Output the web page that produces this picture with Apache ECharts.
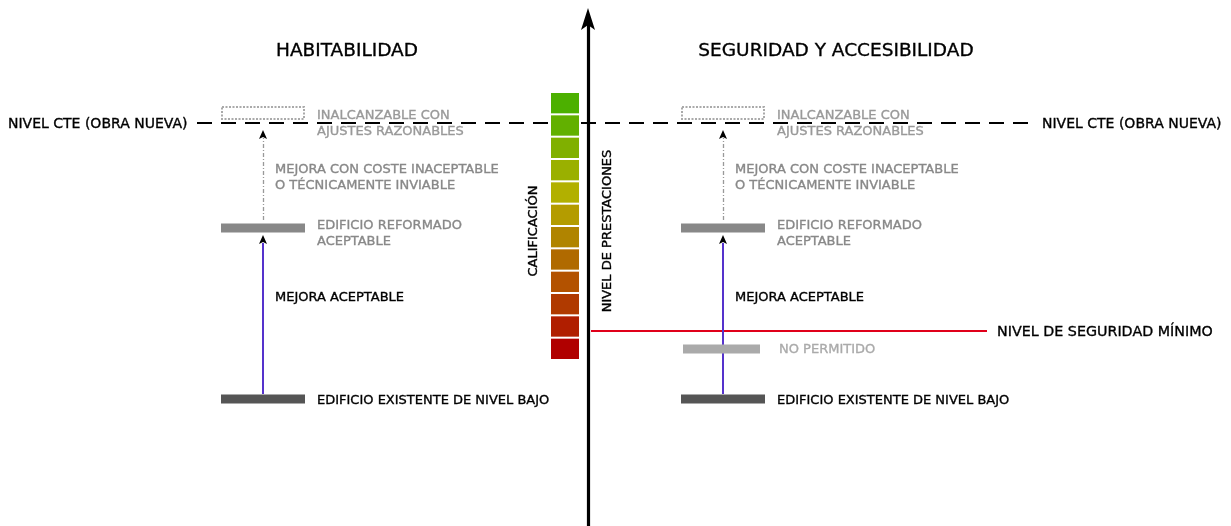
<!DOCTYPE html>
<html><head><meta charset="utf-8">
<script src="https://cdn.jsdelivr.net/npm/echarts@6/dist/echarts.min.js"></script>
<style>html,body{margin:0;padding:0;background:#fff}#c{width:1231px;height:526px}</style>
</head><body><div id="c"></div>
<script>
// ---- data (diagram space: x horizontal, y = vertical position, top = 0) ----
const W = 1231, H = 526;
const axisX = 588;                       // central "nivel de prestaciones" axis
const levelCTE = 123;                    // NIVEL CTE (OBRA NUEVA)
const levelUnreachable = 113;            // inalcanzable con ajustes razonables
const levelReformed = 228;               // edificio reformado aceptable
const levelMinSafety = 331;              // nivel de seguridad mínimo
const levelNotAllowed = 349;             // no permitido
const levelExisting = 399;               // edificio existente de nivel bajo
const panelNames = ['HABITABILIDAD', 'SEGURIDAD Y ACCESIBILIDAD'];
const panelBarLeft = [221, 681];
const panelTitleX = [347, 836];
const scaleColors = ['#4cb000','#62b000','#80b000','#9ab000','#b2b000','#b49c00',
                     '#b08400','#b06a00','#b35200','#b03a00','#b01e00','#b00000'];
const scaleTop = 92, scaleBottom = 360, scaleLeft = 551, scaleRight = 579;

const texts = [
  // [text, x, y, color, size, align, rotation]
  ['NIVEL CTE (OBRA NUEVA)', 8, levelCTE + 1, '#000', 14, 'left', 0],
  ['NIVEL CTE (OBRA NUEVA)', 1042, levelCTE + 1, '#000', 14, 'left', 0],
  ['NIVEL DE SEGURIDAD MÍNIMO', 997, levelMinSafety + 1.5, '#000', 14.3, 'left', 0],
  ['CALIFICACIÓN', 534, 231, '#000', 13, 'center', Math.PI / 2],
  ['NIVEL DE PRESTACIONES', 608, 231, '#000', 13, 'center', Math.PI / 2]
];
const panelTexts = [
  // [text, dx from bar left, y, color, panels]
  ['INALCANZABLE CON', 96, 116, '#999', [0,1]],
  ['AJUSTES RAZONABLES', 96, 132, '#999', [0,1]],
  ['MEJORA CON COSTE INACEPTABLE', 54, 170, '#888', [0,1]],
  ['O TÉCNICAMENTE INVIABLE', 54, 186, '#888', [0,1]],
  ['EDIFICIO REFORMADO', 96, 226, '#888', [0,1]],
  ['ACEPTABLE', 96, 242, '#888', [0,1]],
  ['MEJORA ACEPTABLE', 54, 298, '#000', [0,1]],
  ['EDIFICIO EXISTENTE DE NIVEL BAJO', 96, 401, '#000', [0,1]],
  ['NO PERMITIDO', 98, 350, '#aaa', [1]]
];
for (const t of panelTexts) for (const p of t[4]) texts.push([t[0], panelBarLeft[p] + t[1], t[2], t[3], 13, 'left', 0]);
panelNames.forEach((n, i) => texts.push([n, panelTitleX[i], 51, '#000', 18.5, 'center', 0]));

// bars: [x0, x1, y, height, color]
const bars = [];
panelBarLeft.forEach(x => {
  bars.push([x, x + 84, levelReformed, 9, '#888']);
  bars.push([x, x + 84, levelExisting, 9, '#555']);
});
bars.push([panelBarLeft[1] + 2, panelBarLeft[1] + 79, levelNotAllowed, 9, '#aaa']);

const scaleCells = scaleColors.map((c, i) => {
  const h = (scaleBottom - scaleTop) / scaleColors.length;
  return [scaleLeft, scaleRight, scaleTop + i * h + h / 2, h - 2, c];
});
const rects = bars.concat(scaleCells);

// ---- rendering ----
const fontFam = '"DejaVu Sans", sans-serif';
function rectRender(params, api) {
  const r = rects[params.dataIndex];
  const a = api.coord([r[0], r[2]]), b = api.coord([r[1], r[2]]);
  const hp = api.size([0, r[3]])[1];
  return { type: 'rect', shape: { x: a[0], y: a[1] - hp / 2, width: b[0] - a[0], height: hp },
    style: { fill: r[4] } };
}
function textRender(params, api) {
  const t = texts[params.dataIndex];
  const p = api.coord([t[1], t[2]]);
  return { type: 'text', x: p[0], y: p[1], rotation: t[6],
    style: { text: t[0], fill: t[3], font: t[4] + 'px ' + fontFam,
      align: t[5], verticalAlign: 'middle', stroke: t[3], lineWidth: 0.35 } };
}

function arrowHead(api, x, y) {
  const t = api.coord([x, y]);
  return { type: 'polygon', shape: { points: [[t[0], t[1]], [t[0] - 4, t[1] + 9], [t[0], t[1] + 7], [t[0] + 4, t[1] + 9]] },
    style: { fill: '#000' } };
}

const lineSeg = (coords, color, width, type) => ({ coords, lineStyle: { color, width, type, opacity: 1 } });
const lineData = [
  lineSeg([[axisX, H], [axisX, 20]], '#000', 3.2, 'solid'),
  lineSeg([[197, levelCTE], [1028, levelCTE]], '#000', 2, [15, 9]),
  lineSeg([[591, levelMinSafety], [987, levelMinSafety]], '#e0001a', 2, 'solid')
];
panelBarLeft.forEach(x => {
  lineData.push(lineSeg([[x + 42, levelExisting - 5], [x + 42, 243]], '#5533cc', 2, 'solid'));
  lineData.push(lineSeg([[x + 42, levelReformed - 8], [x + 42, 138]], '#999', 1.3, [4, 2, 1, 2]));
});

const option = {
  animation: false,
  grid: { left: 0, right: 0, top: 0, bottom: 0 },
  xAxis: { type: 'value', min: 0, max: W, show: false },
  yAxis: { type: 'value', min: 0, max: H, inverse: true, show: false },
  series: [
    { type: 'lines', coordinateSystem: 'cartesian2d', polyline: false, symbol: 'none',
      lineStyle: { opacity: 1 }, data: lineData, z: 2 },
    { type: 'custom', renderItem: rectRender, data: rects.map(r => [r[0], r[2]]), z: 3 },
    { type: 'custom', data: [[panelBarLeft[0]], [panelBarLeft[1]]], z: 3,
      renderItem: (params, api) => {
        const x = panelBarLeft[params.dataIndex];
        const a = api.coord([x + 1, levelUnreachable - 6]), b = api.coord([x + 83, levelUnreachable + 6]);
        return { type: 'group', children: [
          { type: 'rect', shape: { x: a[0], y: a[1], width: b[0] - a[0], height: b[1] - a[1] },
            style: { fill: '#fff', stroke: '#aaa', lineWidth: 2, lineDash: [2, 1.5] } },
          arrowHead(api, x + 42, 130),
          arrowHead(api, x + 42, 235)
        ] };
      } },
    { type: 'custom', data: [[axisX, 8]], z: 4,
      renderItem: (params, api) => {
        const t = api.coord([axisX, 8]);
        return { type: 'polygon', shape: { points: [[t[0], t[1]], [t[0] - 7, t[1] + 22], [t[0], t[1] + 17], [t[0] + 7, t[1] + 22]] },
          style: { fill: '#000' } };
      } },
    { type: 'custom', renderItem: textRender, data: texts.map(t => [t[1], t[2]]), z: 5 }
  ]
};
const chart = echarts.init(document.getElementById('c'), null, { renderer: 'canvas' });
chart.setOption(option);
</script></body></html>
